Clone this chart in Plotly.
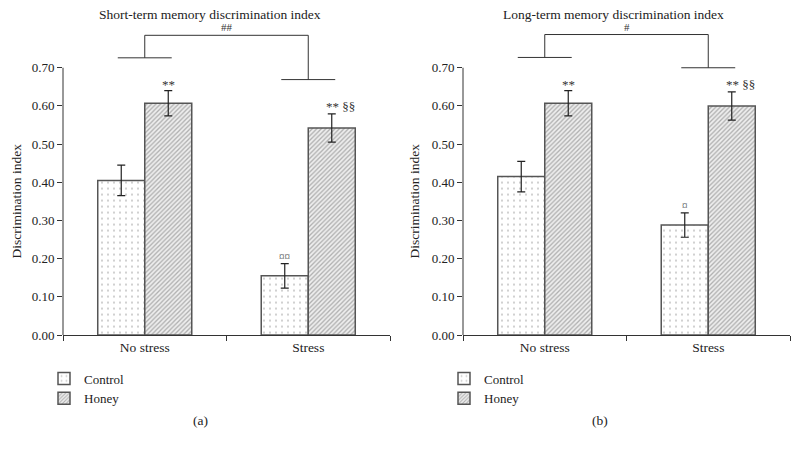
import plotly.graph_objects as go

# ---- data ----
categories = ["No stress", "Stress"]
series_names = ["Control", "Honey"]

st_control = [0.405, 0.155]
st_control_err = [0.040, 0.032]
st_honey = [0.607, 0.542]
st_honey_err = [0.033, 0.037]

lt_control = [0.415, 0.288]
lt_control_err = [0.040, 0.032]
lt_honey = [0.607, 0.600]
lt_honey_err = [0.033, 0.037]

st_control_marks = ["", "¤¤"]
st_honey_marks = ["**", "** §§"]
lt_control_marks = ["", "¤"]
lt_honey_marks = ["**", "** §§"]

st_bracket_label = "##"
st_bracket_levels = [0.726, 0.669, 0.785]  # left arm, right arm, top
lt_bracket_label = "#"
lt_bracket_levels = [0.727, 0.700, 0.787]

titles = ["Short-term memory discrimination index", "Long-term memory discrimination index"]
panel_labels = ["(a)", "(b)"]
ytitle = "Discrimination index"
tick_vals = [0.0, 0.1, 0.2, 0.3, 0.4, 0.5, 0.6, 0.7]
tick_text = ["0.00", "0.10", "0.20", "0.30", "0.40", "0.50", "0.60", "0.70"]

# ---- styling ----
FONT = "Liberation Serif, Times New Roman, serif"
W, H = 799, 455
BARGAP = 0.425
OUTLINE = "#555555"
AX = "#333333"

control_pattern = dict(shape=".", fgcolor="#8c8c8c", bgcolor="white", size=6, solidity=0.1)
honey_pattern = dict(shape="/", fgcolor="#6e6e6e", bgcolor="#eeeeee", size=3.2, solidity=0.4)

fig = go.Figure()

panels = [
    dict(ctrl=st_control, ce=st_control_err, hon=st_honey, he=st_honey_err,
         cm=st_control_marks, hm=st_honey_marks, bl=st_bracket_label, lv=st_bracket_levels,
         xa="x", ya="y", legend="legend"),
    dict(ctrl=lt_control, ce=lt_control_err, hon=lt_honey, he=lt_honey_err,
         cm=lt_control_marks, hm=lt_honey_marks, bl=lt_bracket_label, lv=lt_bracket_levels,
         xa="x2", ya="y2", legend="legend2"),
]

half = (1 - BARGAP) / 4.0  # centre offset of each bar in category units
shapes = []
annotations = []

for i, p in enumerate(panels):
    for name, vals, errs, pat in [("Control", p["ctrl"], p["ce"], control_pattern),
                                  ("Honey", p["hon"], p["he"], honey_pattern)]:
        fig.add_trace(go.Bar(
            x=categories, y=vals, name=name,
            xaxis=p["xa"], yaxis=p["ya"], legend=p["legend"],
            marker=dict(color="white", pattern=pat, line=dict(color=OUTLINE, width=1.5)),
            error_y=dict(type="data", array=errs, visible=True, color="#222222",
                         thickness=1.2, width=4),
        ))
    xr = p["xa"]
    yr = p["ya"]
    # y axis line from 0 to 0.70
    shapes.append(dict(type="line", xref=xr + " domain", yref=yr, x0=0, x1=0,
                       y0=0, y1=tick_vals[-1], line=dict(color=AX, width=1)))
    # significance marks
    for j in range(len(categories)):
        if p["cm"][j]:
            annotations.append(dict(x=j - half, y=p["ctrl"][j] + p["ce"][j], xref=xr, yref=yr,
                                    text=p["cm"][j], showarrow=False, yanchor="bottom",
                                    xanchor="center", yshift=0,
                                    font=dict(family=FONT, size=11, color="#333")))
        if p["hm"][j]:
            txt = p["hm"][j]
            if "§" in txt:
                annotations.append(dict(x=j + half, y=p["he"][j] + p["hon"][j], xref=xr, yref=yr,
                                        text=txt, showarrow=False, yanchor="bottom", xanchor="left",
                                        xshift=-8, yshift=-2,
                                        font=dict(family=FONT, size=13, color="#333")))
            else:
                annotations.append(dict(x=j + half, y=p["he"][j] + p["hon"][j], xref=xr, yref=yr,
                                        text=txt, showarrow=False, yanchor="bottom",
                                        xanchor="center", yshift=-3,
                                        font=dict(family=FONT, size=13, color="#333")))
    # bracket
    lv = p["lv"]
    arm = 0.165
    lc = dict(color=AX, width=1)
    shapes += [
        dict(type="line", xref=xr, yref=yr, x0=0 - arm, x1=0 + arm, y0=lv[0], y1=lv[0], line=lc),
        dict(type="line", xref=xr, yref=yr, x0=1 - arm, x1=1 + arm, y0=lv[1], y1=lv[1], line=lc),
        dict(type="line", xref=xr, yref=yr, x0=0, x1=0, y0=lv[0], y1=lv[2], line=lc),
        dict(type="line", xref=xr, yref=yr, x0=1, x1=1, y0=lv[1], y1=lv[2], line=lc),
        dict(type="line", xref=xr, yref=yr, x0=0, x1=1, y0=lv[2], y1=lv[2], line=lc),
    ]
    annotations.append(dict(x=0.5, y=lv[2], xref=xr, yref=yr, text=p["bl"], showarrow=False,
                            yanchor="bottom", xanchor="center", yshift=0,
                            font=dict(family=FONT, size=11, color="#333")))

# titles / labels (paper coords)
title_x = [210 / W, 613 / W]
ytitle_x = [16 / W, 414 / W]
label_x = [200 / W, 600 / W]
for i in range(2):
    annotations.append(dict(x=title_x[i], y=1 - 15 / H, xref="paper", yref="paper", text=titles[i],
                            xanchor="center", yanchor="middle",
                            showarrow=False, font=dict(family=FONT, size=13.5, color="#222")))
    annotations.append(dict(x=ytitle_x[i], y=1 - 205 / H, xref="paper", yref="paper", text=ytitle,
                            xanchor="center", yanchor="middle",
                            textangle=-90, showarrow=False, font=dict(family=FONT, size=13.5, color="#222")))
    annotations.append(dict(x=label_x[i], y=1 - 428 / H, xref="paper", yref="paper", text=panel_labels[i],
                            xanchor="center", yanchor="middle",
                            showarrow=False, font=dict(family=FONT, size=13.5, color="#222")))

ydom = [1 - 341 / H, 1 - 30.1 / H]
xaxis_common = dict(type="category", showline=True, linecolor=AX, linewidth=1, ticks="outside",
                    tickson="boundaries", ticklen=5, tickcolor=AX, showgrid=False, zeroline=False,
                    tickfont=dict(family=FONT, size=13.5, color="#222"), fixedrange=True)
yaxis_common = dict(range=[0, 0.80], showline=False, ticks="outside", ticklen=5, tickcolor=AX,
                    tickvals=tick_vals, ticktext=tick_text, showgrid=False, zeroline=False,
                    tickfont=dict(family=FONT, size=13, color="#222"), domain=ydom)

legend_common = dict(orientation="v", xanchor="left", yanchor="top", bgcolor="rgba(0,0,0,0)",
                     font=dict(family=FONT, size=13, color="#222"), itemclick=False,
                     tracegroupgap=0)

fig.update_layout(
    width=W, height=H, margin=dict(l=0, r=0, t=0, b=0),
    paper_bgcolor="white", plot_bgcolor="white",
    barmode="group", bargap=BARGAP, bargroupgap=0,
    xaxis=dict(domain=[63 / W, 390 / W], anchor="y", **xaxis_common),
    yaxis=dict(anchor="x", **yaxis_common),
    xaxis2=dict(domain=[463 / W, 790 / W], anchor="y2", **xaxis_common),
    yaxis2=dict(anchor="x2", **yaxis_common),
    legend=dict(x=44 / W, y=1 - 370 / H, **legend_common),
    legend2=dict(x=444 / W, y=1 - 370 / H, **legend_common),
    shapes=shapes, annotations=annotations, showlegend=True,
)

fig.write_html("out.html", config={"displayModeBar": False},
               post_script="document.body.style.margin='0px';document.body.style.overflow='hidden';")
